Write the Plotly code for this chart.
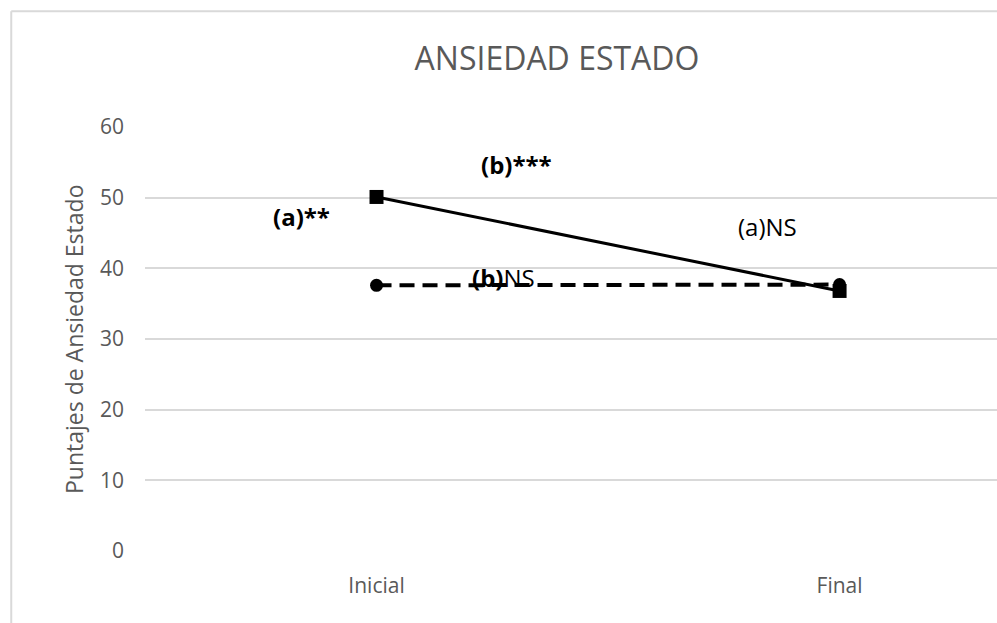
import plotly.graph_objects as go

# Measurement moments and group means
categories = ["Inicial", "Final"]
grupo_solido = [50.1, 36.8]
grupo_discontinuo = [37.6, 37.7]

# Significance labels: (text, x position in category units, y value)
etiquetas_texto = ["<b>(a)**</b>", "<b>(b)***</b>", "(a)NS", "<b>(b)</b>NS"]
etiquetas_x = [-0.162, 0.302, 0.844, 0.274]
etiquetas_y = [47.3, 54.7, 45.9, 38.7]

GRIS_TEXTO = "#595959"
GRIS_LINEA = "#d9d9d9"
FUENTE = "Open Sans"

fig = go.Figure()

fig.add_trace(go.Scatter(
    x=categories, y=grupo_discontinuo, mode="lines+markers",
    line=dict(color="black", width=4, dash="15px,8px"),
    marker=dict(symbol="circle", size=13, color="black"),
    showlegend=False, hoverinfo="skip",
))
fig.add_trace(go.Scatter(
    x=categories, y=grupo_solido, mode="lines+markers",
    line=dict(color="black", width=3),
    marker=dict(symbol="square", size=14, color="black"),
    showlegend=False, hoverinfo="skip",
))

for txt, xx, yy in zip(etiquetas_texto, etiquetas_x, etiquetas_y):
    fig.add_annotation(
        x=xx, y=yy, xref="x", yref="y", text=txt, showarrow=False,
        font=dict(family=FUENTE, size=24, color="black"),
        xanchor="center", yanchor="middle",
    )

# Y-axis title
fig.add_annotation(
    x=-0.0833, y=0.5, xref="paper", yref="paper",
    text="Puntajes de Ansiedad Estado", textangle=-90, showarrow=False,
    font=dict(family=FUENTE, size=23, color=GRIS_TEXTO),
    xanchor="center", yanchor="middle",
)

# Chart-area frame (left and top edges)
fig.add_shape(type="line", xref="paper", yref="paper",
              x0=-0.157, x1=-0.157, y0=-0.2, y1=1.273,
              line=dict(color=GRIS_LINEA, width=2))
fig.add_shape(type="line", xref="paper", yref="paper",
              x0=-0.157, x1=1.05, y0=1.273, y1=1.273,
              line=dict(color=GRIS_LINEA, width=2))

fig.update_layout(
    width=997, height=623,
    margin=dict(l=145, r=0, t=127, b=72),
    paper_bgcolor="white", plot_bgcolor="white",
    font=dict(family=FUENTE, color=GRIS_TEXTO),
    title=dict(
        text="ANSIEDAD ESTADO", x=557 / 997, xanchor="center", xref="container",
        y=1 - 59 / 623, yanchor="middle", yref="container",
        font=dict(family=FUENTE, size=32, color=GRIS_TEXTO),
    ),
    xaxis=dict(
        type="category", range=[-0.5, 1.34], showgrid=False, showline=False,
        zeroline=False, ticks="", ticklabelstandoff=20,
        tickfont=dict(family=FUENTE, size=21, color=GRIS_TEXTO),
    ),
    yaxis=dict(
        range=[0, 60], dtick=10, showgrid=True, gridcolor=GRIS_LINEA,
        gridwidth=1.5, zeroline=False, showline=False, ticks="",
        ticklabelstandoff=20,
        tickfont=dict(family=FUENTE, size=21, color=GRIS_TEXTO),
    ),
)

fig.write_html("out.html")
